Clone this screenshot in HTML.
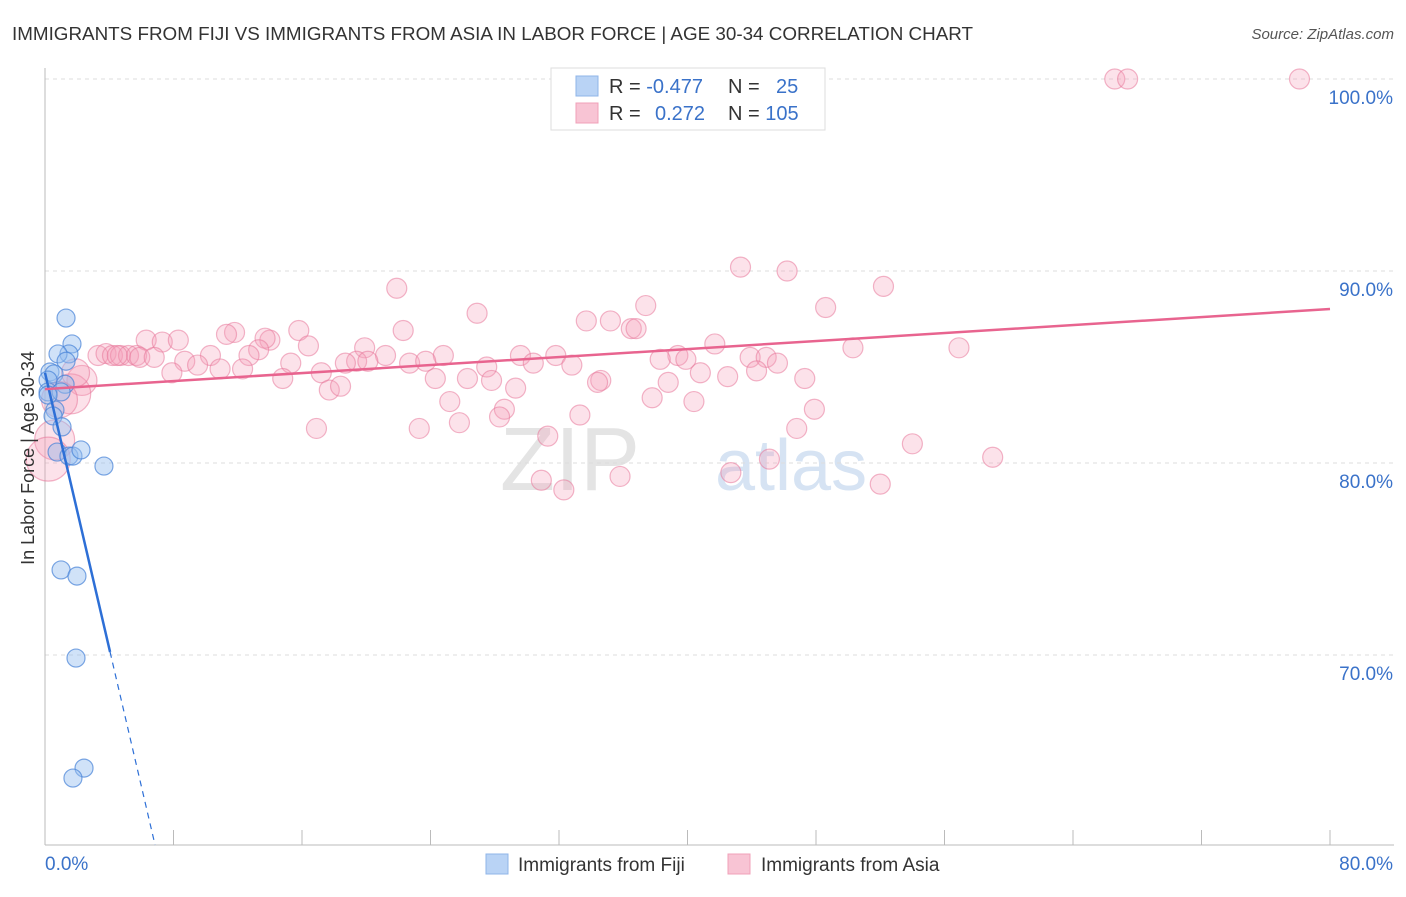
<!DOCTYPE html>
<html><head><meta charset="utf-8"><style>
body{margin:0;background:#fff;font-family:"Liberation Sans",sans-serif;}
svg text{font-family:"Liberation Sans",sans-serif;}
</style></head><body>
<svg id="chart" width="1406" height="892" xmlns="http://www.w3.org/2000/svg">
<text x="12" y="40" font-size="18.8" fill="#333" textLength="961" lengthAdjust="spacingAndGlyphs">IMMIGRANTS FROM FIJI VS IMMIGRANTS FROM ASIA IN LABOR FORCE | AGE 30-34 CORRELATION CHART</text>
<text x="1394" y="39" font-size="15" fill="#555" text-anchor="end" font-style="italic">Source: ZipAtlas.com</text>
<text x="640" y="490" font-size="90" fill="#e4e4e4" text-anchor="end" font-family="Liberation Serif">ZIP</text>
<text x="715" y="490" font-size="72" fill="#d6e3f3">atlas</text>
<g id="grid"></g>
<g id="axes"></g>
<g id="asia"></g>
<g id="fiji"></g>
<g id="trends"></g>
<text transform="translate(34,458) rotate(-90)" font-size="18" fill="#333" text-anchor="middle">In Labor Force | Age 30-34</text>
<g>
<rect x="551" y="68" width="274" height="62" fill="#fff" stroke="#ddd"/>
<rect x="576" y="76" width="22" height="20" fill="#b9d3f5" stroke="#8fb4e8"/>
<rect x="576" y="103" width="22" height="20" fill="#f8c4d4" stroke="#f0a0b8"/>
<text x="609" y="93" font-size="20" fill="#333">R = <tspan fill="#3a72c9">-0.477</tspan></text>
<text x="728" y="93" font-size="20" fill="#333">N = <tspan x="776" fill="#3a72c9">25</tspan></text>
<text x="609" y="120" font-size="20" fill="#333">R = <tspan x="655" fill="#3a72c9">0.272</tspan></text>
<text x="728" y="120" font-size="20" fill="#333">N = <tspan fill="#3a72c9">105</tspan></text>
</g>
<g>
<rect x="486" y="854" width="22" height="20" fill="#b9d3f5" stroke="#8fb4e8"/>
<text x="518" y="871" font-size="19" fill="#333">Immigrants from Fiji</text>
<rect x="728" y="854" width="22" height="20" fill="#f8c4d4" stroke="#f0a0b8"/>
<text x="761" y="871" font-size="19" fill="#333">Immigrants from Asia</text>
</g>
</svg>
<script>
const yTicks=[100,90,80,70];
const yTickLabels=["100.0%","90.0%","80.0%","70.0%"];
const xTickLabels=["0.0%","80.0%"];
const fijiX=[1.31,1.68,1.49,0.81,1.31,0.31,0.56,0.19,1.25,0.19,1.0,0.62,0.5,1.06,0.75,1.49,1.74,2.24,3.67,1.0,1.99,1.93,2.43,1.74,0.19];
const fijiY=[87.55,86.2,85.68,85.68,85.3,84.74,84.64,84.32,84.1,83.7,83.7,82.76,82.45,81.88,80.57,80.36,80.36,80.68,79.84,74.43,74.11,69.84,64.11,63.59,83.54];
const asiaX=[66.6,67.4,78.1,43.3,46.2,52.2,21.9,37.4,48.6,26.9,33.7,35.2,36.5,36.8,15.8,22.3,11.8,11.3,6.3,7.3,8.3,14.0,13.7,16.4,19.9,13.3,41.7,56.9,50.3,3.3,3.8,4.2,4.7,5.2,5.7,5.9,6.8,4.5,10.3,8.7,12.7,21.2,19.4,20.1,24.8,29.6,31.8,39.4,39.9,43.9,44.9,38.3,15.3,9.5,10.9,12.3,22.7,23.7,27.5,30.4,32.8,45.6,7.9,14.8,17.2,18.7,24.3,26.3,27.8,34.6,34.4,38.8,40.8,42.5,44.3,47.3,17.7,18.4,29.3,25.2,37.8,40.4,28.6,28.3,47.9,33.3,16.9,23.3,25.8,46.8,31.3,54.0,45.1,59.0,35.8,30.9,32.3,42.7,52.0,2.3,1.6,0.9,0.6,0.2,1.9];
const asiaY=[100,100,100,90.2,90.0,89.2,89.1,88.2,88.1,87.8,87.4,87.4,87.0,87.0,86.9,86.9,86.8,86.7,86.4,86.3,86.4,86.4,86.5,86.1,86.0,85.9,86.2,86.0,86.0,85.6,85.7,85.6,85.6,85.6,85.6,85.5,85.5,85.6,85.6,85.3,85.6,85.6,85.3,85.3,85.6,85.6,85.6,85.6,85.4,85.5,85.5,85.4,85.2,85.1,84.9,84.9,85.2,85.3,85.0,85.2,85.1,85.2,84.7,84.4,84.7,85.2,84.4,84.4,84.3,84.3,84.2,84.2,84.7,84.5,84.8,84.4,83.8,84.0,83.9,83.2,83.4,83.2,82.8,82.4,82.8,82.5,81.8,81.8,82.1,81.8,81.4,81.0,80.2,80.3,79.3,79.1,78.6,79.5,78.9,84.3,83.6,83.3,81.2,80.2,84.7];
const asiaBig={99:15,100:20,101:18,102:20,103:22,104:14};
const fijiTrend=[84.7,-3.59];
const asiaTrend=[83.85,0.0521];
const X=v=>45+v/80*1285, Y=v=>79+(100-v)*19.2;
const NS="http://www.w3.org/2000/svg";
function mk(tag,attrs,parent){const e=document.createElementNS(NS,tag);for(const k in attrs)e.setAttribute(k,attrs[k]);document.getElementById(parent).appendChild(e);return e;}
yTicks.forEach((t,i)=>{
 const l=mk('line',{x1:45,x2:1394,y1:Y(t),y2:Y(t),stroke:'#ddd','stroke-dasharray':'4 4'},'grid');
 
 
 const tx=mk('text',{x:1393,y:Y(t)+25,'font-size':19,fill:'#3a72c9','text-anchor':'end'},'grid');
 tx.textContent=yTickLabels[i];
 
 
});
const ax=mk('line',{x1:45,x2:45,y1:68,y2:845,stroke:'#bbb'},'axes');


const bx=mk('line',{x1:45,x2:1394,y1:845,y2:845,stroke:'#bbb'},'axes');


for(let i=0;i<=10;i++){
 const t=mk('line',{x1:X(i*8),x2:X(i*8),y1:830,y2:845,stroke:'#bbb'},'axes');
 
 
}
[[0,45,'start'],[80,1393,'end']].forEach((d,i)=>{
 const t=mk('text',{x:d[1],y:870,'font-size':19,fill:'#3a72c9','text-anchor':d[2]},'axes');
 t.textContent=xTickLabels[i];
 
 
});
asiaX.forEach((v,i)=>{
 const c=mk('circle',{cx:X(v),cy:Y(asiaY[i]),r:asiaBig[i]||10,fill:'rgba(244,160,185,0.3)',stroke:'rgba(232,120,155,0.55)','stroke-width':1.2},'asia');
 
 
});
fijiX.forEach((v,i)=>{
 const c=mk('circle',{cx:X(v),cy:Y(fijiY[i]),r:9,fill:'rgba(150,190,240,0.45)',stroke:'rgba(70,130,215,0.7)','stroke-width':1.2},'fiji');
 
 
});
const fy=x=>fijiTrend[0]+fijiTrend[1]*x, ay=x=>asiaTrend[0]+asiaTrend[1]*x;
const f1=mk('line',{x1:X(0),y1:Y(fy(0)),x2:X(4.05),y2:Y(fy(4.05)),stroke:'#2d6fd6','stroke-width':2.5},'trends');


const xe=(fijiTrend[0]-(100-(845-79)/19.2))/-fijiTrend[1];
const f2=mk('line',{x1:X(4.05),y1:Y(fy(4.05)),x2:X(xe),y2:Y(fy(xe)),stroke:'#2d6fd6','stroke-width':1.2,'stroke-dasharray':'6 5'},'trends');


const a1=mk('line',{x1:X(0),y1:Y(ay(0)),x2:X(80),y2:Y(ay(80)),stroke:'#e8648f','stroke-width':2.5},'trends');


</script>
</body></html>
